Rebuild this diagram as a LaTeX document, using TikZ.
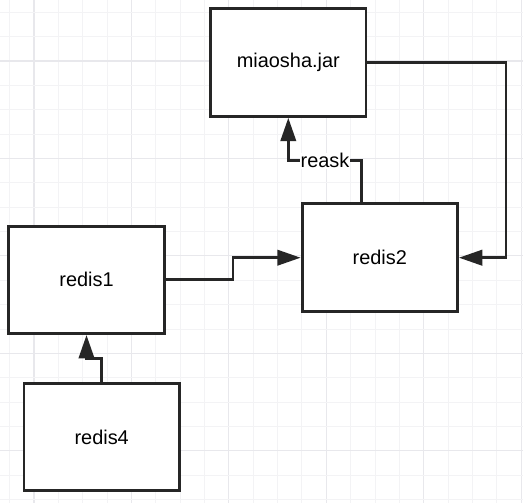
\documentclass[tikz,border=0pt]{standalone}
\usepackage{fontspec}
\setmainfont{Liberation Sans}
\usetikzlibrary{arrows.meta}
\definecolor{gridminor}{HTML}{F3F3F5}
\definecolor{gridmajor}{HTML}{E8E8EC}
\definecolor{ink}{HTML}{262626}

\begin{document}
\begin{tikzpicture}[x=0.03cm, y=-0.03cm,
    box/.style={draw=ink, line width=2.5pt, fill=white, minimum width=4.66cm,
      minimum height=3.225cm, font=\fontsize{17}{20}\selectfont},
    conn/.style={draw=ink, line width=2.4pt,
      -{Triangle[length=0.7cm, width=0.46cm]}},
    tag/.style={fill=white, inner sep=0.6pt, font=\fontsize{17}{20}\selectfont}]
  \useasboundingbox (0,0) rectangle (523,503);
  \fill[white] (0,0) rectangle (523,503);

  % Draw the background grid
  \foreach \i in {0,...,21} {
    \pgfmathtruncatemacro{\m}{mod(\i,4)}
    \ifnum\m=1
      \draw[gridmajor, line width=1pt] ({9.6+\i*24.36},0) -- ({9.6+\i*24.36},503);
    \else
      \draw[gridminor, line width=0.8pt] ({9.6+\i*24.36},0) -- ({9.6+\i*24.36},503);
    \fi
  }
  \foreach \j in {0,...,20} {
    \pgfmathtruncatemacro{\m}{mod(\j,4)}
    \ifnum\m=2
      \draw[gridmajor, line width=1pt] (0,{12.3+\j*24.36}) -- (523,{12.3+\j*24.36});
    \else
      \draw[gridminor, line width=0.8pt] (0,{12.3+\j*24.36}) -- (523,{12.3+\j*24.36});
    \fi
  }

  % Draw the boxes
  \node[box] (jar) at (288.3,62.6) {miaosha.jar};
  \node[box] (redis2) at (379.8,257.7) {redis2};
  \node[box] (redis1) at (86.5,279.8) {redis1};
  \node[box] (redis4) at (101.7,437) {redis4};

  % Bend points of the connectors
  \coordinate (bend1) at (233,268);
  \coordinate (bend2) at (325,160.7);
  \coordinate (bend3) at (506,150);
  \coordinate (bend4) at (94,358.3);

  % Draw the connectors
  \draw[conn] (redis1.east) -| (bend1) |- (redis2.west);
  \draw[conn] ([xshift=-0.543cm]redis2.north) |- (bend2) -| (jar.south);
  \draw[conn] (jar.east) -| (bend3) |- (redis2.east);
  \draw[conn] (redis4.north) |- (bend4) -| (redis1.south);

  % Add the label
  \node[tag] (reask) at (bend2) {reask};
\end{tikzpicture}
\end{document}
